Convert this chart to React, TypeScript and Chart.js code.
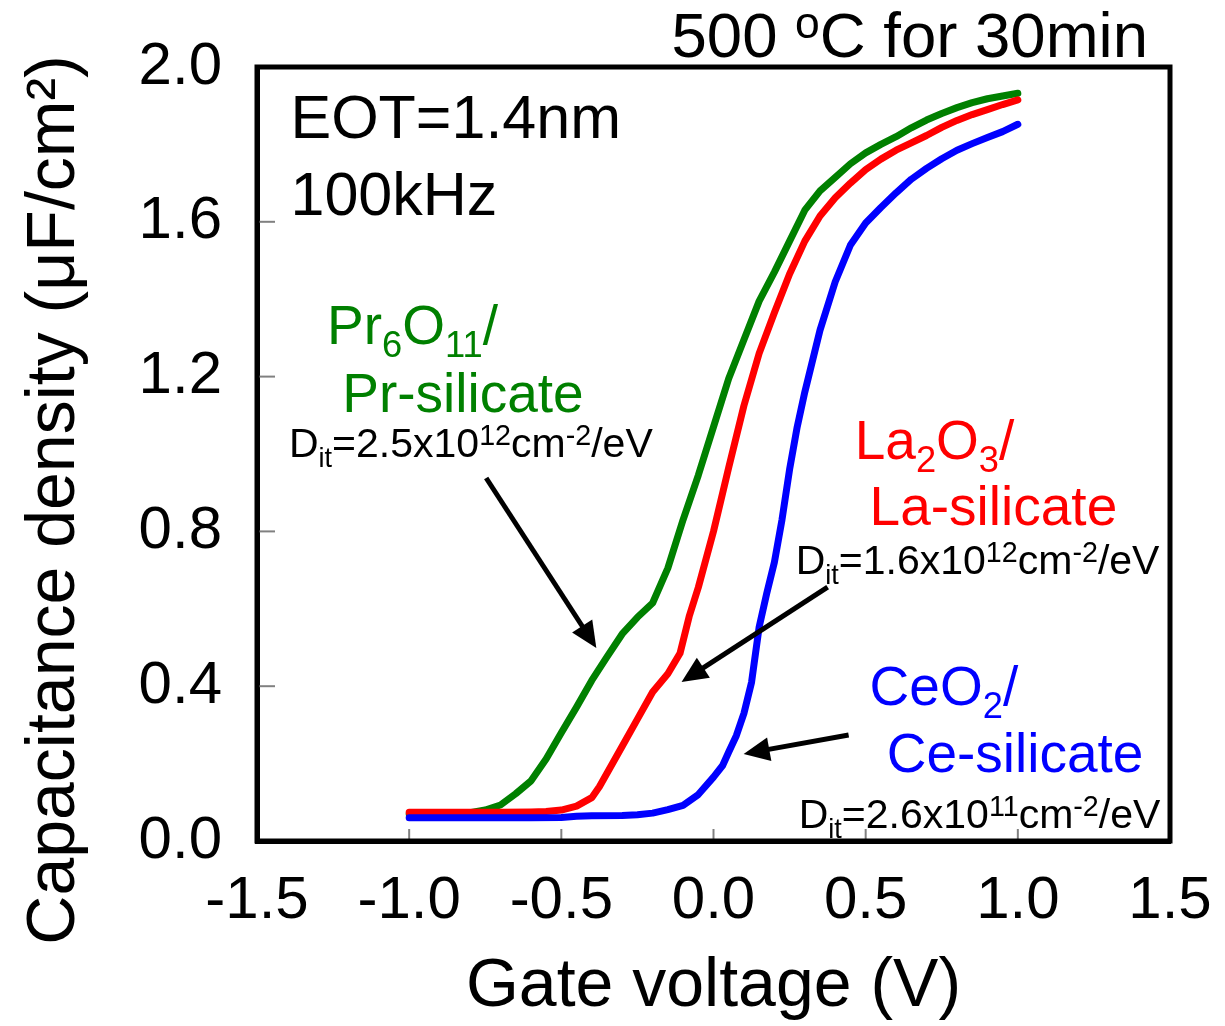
import { useEffect, useRef } from 'react';
import { Chart, registerables } from 'chart.js';

Chart.register(...registerables);

const FONT = '"Liberation Sans", Arial, Helvetica, sans-serif';

// ---- Data ----
const xTickValues = [-1.5, -1.0, -0.5, 0.0, 0.5, 1.0, 1.5];
const yTickValues = [0.0, 0.4, 0.8, 1.2, 1.6, 2.0];

// Pr6O11 / Pr-silicate (green)
const prVoltage = [-1.0, -0.9, -0.8, -0.75, -0.7, -0.65, -0.6, -0.55, -0.5, -0.45, -0.4, -0.35, -0.3, -0.25, -0.2, -0.15, -0.1, -0.05, 0.0, 0.05, 0.1, 0.15, 0.2, 0.25, 0.3, 0.35, 0.4, 0.45, 0.5, 0.55, 0.6, 0.65, 0.7, 0.75, 0.8, 0.85, 0.9, 0.95, 1.0];
const prCap = [0.070, 0.070, 0.073, 0.080, 0.093, 0.122, 0.155, 0.212, 0.280, 0.346, 0.415, 0.476, 0.535, 0.578, 0.615, 0.705, 0.830, 0.945, 1.070, 1.195, 1.295, 1.395, 1.470, 1.550, 1.630, 1.680, 1.715, 1.750, 1.778, 1.800, 1.820, 1.843, 1.863, 1.880, 1.895, 1.908, 1.918, 1.925, 1.932];

// La2O3 / La-silicate (red)
const laVoltage = [-1.0, -0.9, -0.8, -0.7, -0.6, -0.55, -0.5, -0.45, -0.4, -0.375, -0.35, -0.3, -0.25, -0.2, -0.15, -0.11, -0.08, -0.05, 0.0, 0.05, 0.1, 0.15, 0.2, 0.25, 0.3, 0.35, 0.4, 0.45, 0.5, 0.55, 0.6, 0.65, 0.7, 0.75, 0.8, 0.85, 0.9, 0.95, 1.0];
const laCap = [0.074, 0.074, 0.074, 0.074, 0.075, 0.076, 0.080, 0.090, 0.112, 0.140, 0.175, 0.245, 0.315, 0.385, 0.432, 0.485, 0.580, 0.655, 0.800, 0.965, 1.125, 1.260, 1.365, 1.465, 1.550, 1.615, 1.662, 1.700, 1.735, 1.762, 1.785, 1.804, 1.823, 1.844, 1.862, 1.877, 1.890, 1.903, 1.915];

// CeO2 / Ce-silicate (blue)
const ceVoltage = [-1.0, -0.9, -0.8, -0.7, -0.6, -0.5, -0.45, -0.4, -0.3, -0.25, -0.2, -0.15, -0.1, -0.05, 0.0, 0.03, 0.05, 0.075, 0.1, 0.125, 0.15, 0.175, 0.2, 0.225, 0.25, 0.275, 0.3, 0.35, 0.4, 0.45, 0.5, 0.55, 0.6, 0.65, 0.7, 0.75, 0.8, 0.85, 0.9, 0.95, 1.0];
const ceCap = [0.060, 0.060, 0.060, 0.060, 0.060, 0.061, 0.064, 0.065, 0.066, 0.068, 0.072, 0.081, 0.092, 0.120, 0.165, 0.195, 0.230, 0.272, 0.330, 0.410, 0.553, 0.640, 0.720, 0.830, 0.960, 1.070, 1.160, 1.320, 1.445, 1.540, 1.597, 1.637, 1.675, 1.710, 1.738, 1.763, 1.785, 1.802, 1.818, 1.833, 1.852];

const seriesNames = ['Pr6O11/Pr-silicate', 'La2O3/La-silicate', 'CeO2/Ce-silicate'];
const seriesColors = ['#008000', '#ff0000', '#0000ff'];

type Seg = { t: string; k?: 'sub' | 'sup' };
type Label = { segs: Seg[]; v: number; c: number; size: number; color: string };

// Text annotations, placed in data coordinates (V, µF/cm²) at the text's left baseline
const labels: Label[] = [
  { segs: [{ t: '500 ' }, { t: 'o', k: 'sup' }, { t: 'C for 30min' }], v: -0.138, c: 2.026, size: 63.5, color: '#000' },
  { segs: [{ t: 'EOT=1.4nm' }], v: -1.39, c: 1.817, size: 61, color: '#000' },
  { segs: [{ t: '100kHz' }], v: -1.39, c: 1.618, size: 61, color: '#000' },
  { segs: [{ t: 'Pr' }, { t: '6', k: 'sub' }, { t: 'O' }, { t: '11', k: 'sub' }, { t: '/' }], v: -1.27, c: 1.284, size: 55, color: '#008000' },
  { segs: [{ t: 'Pr-silicate' }], v: -1.22, c: 1.109, size: 55, color: '#008000' },
  { segs: [{ t: 'D' }, { t: 'it', k: 'sub' }, { t: '=2.5x10' }, { t: '12', k: 'sup' }, { t: 'cm' }, { t: '-2', k: 'sup' }, { t: '/eV' }], v: -1.395, c: 0.992, size: 41, color: '#000' },
  { segs: [{ t: 'La' }, { t: '2', k: 'sub' }, { t: 'O' }, { t: '3', k: 'sub' }, { t: '/' }], v: 0.464, c: 0.987, size: 55, color: '#ff0000' },
  { segs: [{ t: 'La-silicate' }], v: 0.513, c: 0.817, size: 55, color: '#ff0000' },
  { segs: [{ t: 'D' }, { t: 'it', k: 'sub' }, { t: '=1.6x10' }, { t: '12', k: 'sup' }, { t: 'cm' }, { t: '-2', k: 'sup' }, { t: '/eV' }], v: 0.27, c: 0.69, size: 41, color: '#000' },
  { segs: [{ t: 'CeO' }, { t: '2', k: 'sub' }, { t: '/' }], v: 0.513, c: 0.351, size: 55, color: '#0000ff' },
  { segs: [{ t: 'Ce-silicate' }], v: 0.569, c: 0.178, size: 55, color: '#0000ff' },
  { segs: [{ t: 'D' }, { t: 'it', k: 'sub' }, { t: '=2.6x10' }, { t: '11', k: 'sup' }, { t: 'cm' }, { t: '-2', k: 'sup' }, { t: '/eV' }], v: 0.28, c: 0.034, size: 41, color: '#000' },
];

// Arrows in data coordinates: tail -> tip
const arrowTails = [[-0.747, 0.938], [0.375, 0.656], [0.444, 0.274]];
const arrowTips = [[-0.385, 0.499], [-0.105, 0.411], [0.099, 0.225]];

const yTitle = 'Capacitance density (μF/cm²)';
const xTitle = 'Gate voltage (V)';

function drawRich(ctx: CanvasRenderingContext2D, segs: Seg[], x: number, y: number, size: number) {
  let cx = x;
  for (const s of segs) {
    let fs = size;
    let dy = 0;
    if (s.k === 'sub') { fs = size * 0.66; dy = size * 0.24; }
    if (s.k === 'sup') { fs = size * 0.7; dy = -size * 0.3; }
    ctx.font = `${fs}px ${FONT}`;
    ctx.fillText(s.t, cx, y + dy);
    cx += ctx.measureText(s.t).width;
  }
}

const decorPlugin = {
  id: 'decor',
  afterDraw(chart: any) {
    const { ctx, chartArea } = chart;
    const xs = chart.scales.x;
    const ys = chart.scales.y;
    ctx.save();

    // inward tick marks
    ctx.strokeStyle = '#808080';
    ctx.lineWidth = 2;
    for (const t of xs.ticks) {
      const px = xs.getPixelForValue(t.value);
      ctx.beginPath();
      ctx.moveTo(px, chartArea.bottom);
      ctx.lineTo(px, chartArea.bottom - 12);
      ctx.stroke();
    }
    for (const t of ys.ticks) {
      const py = ys.getPixelForValue(t.value);
      ctx.beginPath();
      ctx.moveTo(chartArea.left, py);
      ctx.lineTo(chartArea.left + 18, py);
      ctx.stroke();
    }

    // frame
    ctx.strokeStyle = '#000';
    ctx.lineWidth = 5;
    ctx.lineJoin = 'miter';
    ctx.strokeRect(chartArea.left, chartArea.top, chartArea.right - chartArea.left, chartArea.bottom - chartArea.top);

    // y-axis title
    ctx.fillStyle = '#000';
    ctx.font = `68px ${FONT}`;
    ctx.textAlign = 'center';
    ctx.textBaseline = 'middle';
    ctx.translate(55, 500);
    ctx.rotate(-Math.PI / 2);
    ctx.fillText(yTitle, 0, 0);
    ctx.setTransform(1, 0, 0, 1, 0, 0);

    // text labels
    ctx.textAlign = 'left';
    ctx.textBaseline = 'alphabetic';
    for (const l of labels) {
      ctx.fillStyle = l.color;
      drawRich(ctx, l.segs, xs.getPixelForValue(l.v), ys.getPixelForValue(l.c), l.size);
    }

    // arrows
    ctx.strokeStyle = '#000';
    ctx.fillStyle = '#000';
    ctx.lineWidth = 5;
    ctx.lineCap = 'butt';
    for (let i = 0; i < arrowTails.length; i++) {
      const x1 = xs.getPixelForValue(arrowTails[i][0]);
      const y1 = ys.getPixelForValue(arrowTails[i][1]);
      const x2 = xs.getPixelForValue(arrowTips[i][0]);
      const y2 = ys.getPixelForValue(arrowTips[i][1]);
      const ang = Math.atan2(y2 - y1, x2 - x1);
      const hl = 26;
      const hw = 12;
      const bx = x2 - hl * Math.cos(ang);
      const by = y2 - hl * Math.sin(ang);
      ctx.beginPath();
      ctx.moveTo(x1, y1);
      ctx.lineTo(bx + 2 * Math.cos(ang), by + 2 * Math.sin(ang));
      ctx.stroke();
      ctx.beginPath();
      ctx.moveTo(x2, y2);
      ctx.lineTo(bx + hw * Math.sin(ang), by - hw * Math.cos(ang));
      ctx.lineTo(bx - hw * Math.sin(ang), by + hw * Math.cos(ang));
      ctx.closePath();
      ctx.fill();
    }
    ctx.restore();
  },
};

export default function App() {
  const ref = useRef<HTMLCanvasElement>(null);
  useEffect(() => {
    document.body.style.margin = '0';
    const toPts = (vs: number[], cs: number[]) => vs.map((v, i) => ({ x: v, y: cs[i] }));
    const series = [toPts(prVoltage, prCap), toPts(laVoltage, laCap), toPts(ceVoltage, ceCap)];
    const chart = new Chart(ref.current!, {
      type: 'line',
      data: {
        datasets: series.map((d, i) => ({
          label: seriesNames[i],
          data: d,
          borderColor: seriesColors[i],
          backgroundColor: seriesColors[i],
          borderWidth: 7,
          borderCapStyle: 'round',
          borderJoinStyle: 'round',
          pointRadius: 0,
          tension: 0,
          fill: false,
          order: 3 - i,
        })),
      },
      options: {
        animation: false,
        responsive: false,
        devicePixelRatio: 1,
        layout: { padding: { left: 0, top: 67, right: 55, bottom: 0 } },
        plugins: { legend: { display: false }, tooltip: { enabled: false } },
        scales: {
          x: {
            type: 'linear',
            min: -1.5,
            max: 1.5,
            afterBuildTicks: (s: any) => { s.ticks = xTickValues.map((v) => ({ value: v })); },
            afterFit: (s: any) => {
              s.height = 185;
              s.paddingLeft = 0; s.paddingRight = 0; s.paddingTop = 0; s.paddingBottom = 0;
            },
            ticks: {
              color: '#000',
              font: { family: FONT, size: 60, lineHeight: 1 },
              padding: 30,
              maxRotation: 0,
              autoSkip: false,
              callback: (v: any) => Number(v).toFixed(1),
            },
            grid: { display: false, drawOnChartArea: false, drawTicks: false },
            border: { display: true, color: '#000', width: 5 },
            title: { display: true, text: xTitle, color: '#000', font: { family: FONT, size: 68, lineHeight: 1 }, padding: { top: 0, bottom: 5 } },
          },
          y: {
            type: 'linear',
            min: 0,
            max: 2.0,
            afterBuildTicks: (s: any) => { s.ticks = yTickValues.map((v) => ({ value: v })); },
            afterFit: (s: any) => {
              s.width = 257;
              s.paddingLeft = 0; s.paddingRight = 0; s.paddingTop = 0; s.paddingBottom = 0;
            },
            ticks: {
              color: '#000',
              font: { family: FONT, size: 60, lineHeight: 1 },
              padding: 35,
              autoSkip: false,
              callback: (v: any) => Number(v).toFixed(1),
            },
            grid: { display: false, drawOnChartArea: false, drawTicks: false },
            border: { display: true, color: '#000', width: 5 },
            title: { display: false, text: yTitle },
          },
        },
      },
      plugins: [decorPlugin],
    } as any);
    return () => chart.destroy();
  }, []);
  return (
    <div style={{ width: 1225, height: 1026 }}>
      <canvas ref={ref} width={1225} height={1026} style={{ display: 'block' }} />
    </div>
  );
}
